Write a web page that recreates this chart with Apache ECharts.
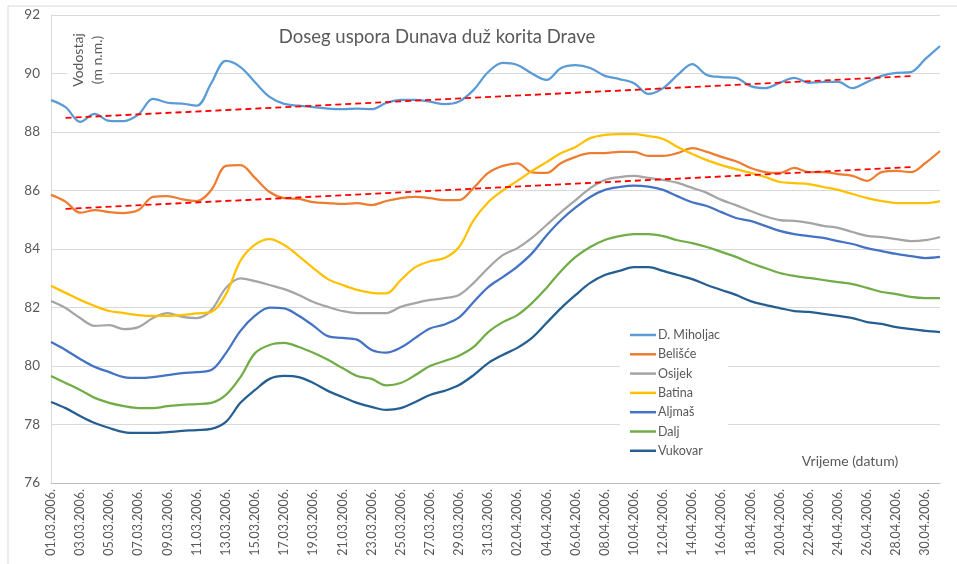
<!DOCTYPE html>
<html>
<head>
<meta charset="utf-8">
<script src="https://cdn.jsdelivr.net/npm/echarts@6/dist/echarts.min.js"></script>
<style>
  html, body { margin: 0; padding: 0; background: #fff; }
  #chart { width: 957px; height: 564px; }
</style>
</head>
<body>
<div id="chart"></div>
<script>
// datumi (dnevno, 01.03. - 01.05.2006.)
var dates = [
  '01.03.2006.','02.03.2006.','03.03.2006.','04.03.2006.','05.03.2006.','06.03.2006.','07.03.2006.','08.03.2006.',
  '09.03.2006.','10.03.2006.','11.03.2006.','12.03.2006.','13.03.2006.','14.03.2006.','15.03.2006.','16.03.2006.',
  '17.03.2006.','18.03.2006.','19.03.2006.','20.03.2006.','21.03.2006.','22.03.2006.','23.03.2006.','24.03.2006.',
  '25.03.2006.','26.03.2006.','27.03.2006.','28.03.2006.','29.03.2006.','30.03.2006.','31.03.2006.','01.04.2006.',
  '02.04.2006.','03.04.2006.','04.04.2006.','05.04.2006.','06.04.2006.','07.04.2006.','08.04.2006.','09.04.2006.',
  '10.04.2006.','11.04.2006.','12.04.2006.','13.04.2006.','14.04.2006.','15.04.2006.','16.04.2006.','17.04.2006.',
  '18.04.2006.','19.04.2006.','20.04.2006.','21.04.2006.','22.04.2006.','23.04.2006.','24.04.2006.','25.04.2006.',
  '26.04.2006.','27.04.2006.','28.04.2006.','29.04.2006.','30.04.2006.','01.05.2006.'
];

var miholjac = [89.09,88.85,88.35,88.62,88.38,88.37,88.6,89.13,89.0,88.97,88.9,89.67,90.43,90.22,89.7,89.2,
  88.96,88.9,88.85,88.8,88.78,88.8,88.78,88.99,89.1,89.1,89.04,88.95,89.04,89.44,90.05,90.36,
  90.29,90.0,89.78,90.19,90.29,90.19,89.92,89.81,89.67,89.3,89.5,89.95,90.32,89.95,89.88,89.85,
  89.57,89.5,89.68,89.85,89.68,89.71,89.71,89.5,89.71,89.92,90.02,90.05,90.5,90.94];

var belisce = [85.85,85.62,85.24,85.33,85.26,85.23,85.33,85.78,85.81,85.7,85.64,86.02,86.84,86.87,86.43,85.95,
  85.74,85.71,85.6,85.57,85.54,85.57,85.5,85.64,85.74,85.78,85.74,85.67,85.67,86.09,86.6,86.84,
  86.93,86.62,86.6,86.94,87.15,87.28,87.28,87.32,87.32,87.18,87.18,87.28,87.45,87.32,87.15,87.0,
  86.77,86.63,86.6,86.77,86.63,86.63,86.56,86.5,86.33,86.63,86.67,86.63,86.94,87.35];

var osijek = [82.22,81.98,81.64,81.37,81.4,81.26,81.33,81.64,81.81,81.68,81.64,81.91,82.67,83.0,82.9,82.77,
  82.63,82.43,82.19,82.02,81.88,81.81,81.81,81.81,82.02,82.15,82.26,82.32,82.43,82.84,83.35,83.79,
  84.03,84.38,84.82,85.26,85.67,86.08,86.36,86.46,86.5,86.43,86.36,86.26,86.09,85.92,85.68,85.5,
  85.3,85.12,84.99,84.96,84.89,84.79,84.72,84.58,84.45,84.41,84.34,84.27,84.3,84.41];

var batina = [82.74,82.5,82.26,82.05,81.88,81.81,81.74,81.71,81.71,81.74,81.8,81.85,82.45,83.6,84.15,84.34,
  84.14,83.76,83.35,82.97,82.77,82.6,82.5,82.48,82.94,83.38,83.58,83.69,84.07,84.99,85.6,86.0,
  86.33,86.67,86.97,87.28,87.49,87.79,87.9,87.93,87.93,87.86,87.76,87.49,87.25,87.04,86.87,86.73,
  86.6,86.46,86.29,86.25,86.22,86.12,86.02,85.88,85.74,85.64,85.57,85.57,85.57,85.64];

var aljmas = [80.82,80.55,80.24,79.97,79.79,79.62,79.59,79.62,79.69,79.76,79.79,79.86,80.44,81.2,81.72,82.0,
  81.97,81.72,81.38,81.02,80.96,80.9,80.55,80.46,80.63,80.96,81.28,81.42,81.66,82.19,82.7,83.04,
  83.4,83.85,84.46,84.99,85.42,85.78,86.02,86.12,86.17,86.13,86.02,85.8,85.6,85.47,85.26,85.06,
  84.96,84.79,84.62,84.51,84.44,84.38,84.27,84.17,84.03,83.93,83.83,83.76,83.69,83.73];

var dalj = [79.66,79.42,79.18,78.91,78.74,78.63,78.56,78.56,78.63,78.67,78.7,78.74,79.01,79.62,80.44,80.72,
  80.79,80.65,80.45,80.21,79.93,79.66,79.56,79.34,79.42,79.69,80.0,80.17,80.35,80.65,81.16,81.5,
  81.74,82.15,82.67,83.25,83.73,84.07,84.31,84.44,84.51,84.51,84.44,84.3,84.2,84.07,83.9,83.73,
  83.52,83.35,83.18,83.08,83.01,82.94,82.87,82.8,82.67,82.53,82.46,82.36,82.32,82.32];

var vukovar = [78.77,78.56,78.29,78.05,77.88,77.74,77.71,77.71,77.74,77.78,77.81,77.85,78.09,78.74,79.18,79.56,
  79.66,79.62,79.42,79.15,78.94,78.74,78.6,78.5,78.56,78.77,79.01,79.15,79.35,79.69,80.1,80.38,
  80.62,80.96,81.47,81.98,82.43,82.84,83.11,83.25,83.38,83.38,83.25,83.11,82.97,82.77,82.6,82.43,
  82.22,82.09,81.98,81.88,81.85,81.78,81.71,81.64,81.5,81.44,81.33,81.26,81.2,81.16];

// linearni trend (pocetak / kraj)
var trendMiholjac = [[dates[1], 88.48], [dates[59], 89.91]];
var trendBelisce = [[dates[1], 85.37], [dates[59], 86.8]];

var names = ['D. Miholjac', 'Belišće', 'Osijek', 'Batina', 'Aljmaš', 'Dalj', 'Vukovar'];
var boje = ['#5B9BD5', '#ED7D31', '#A5A5A5', '#FFC000', '#4472C4', '#70AD47', '#255E91'];
var podaci = [miholjac, belisce, osijek, batina, aljmas, dalj, vukovar];

var FONT = 'Lato, "Noto Sans", sans-serif';
var chart = echarts.init(document.getElementById('chart'));

var series = names.map(function (n, i) {
  return {
    name: n,
    type: 'line',
    data: podaci[i],
    smooth: 0.35,
    symbol: 'none',
    lineStyle: { color: boje[i], width: 2.25 },
    itemStyle: { color: boje[i] },
    z: 3
  };
});
[trendMiholjac, trendBelisce].forEach(function (t) {
  series.push({
    type: 'line',
    data: t,
    symbol: 'none',
    silent: true,
    lineStyle: { color: '#FF0000', width: 1.8, type: [6, 4] },
    z: 4
  });
});

var option = {
  animation: false,
  backgroundColor: '#fff',
  textStyle: { fontFamily: FONT },
  grid: { left: 51, right: 17, top: 15, bottom: 81, containLabel: false, outerBoundsMode: 'none' },
  xAxis: {
    type: 'category',
    data: dates,
    boundaryGap: false,
    axisLine: { show: true, lineStyle: { color: '#BFBFBF', width: 1 } },
    axisTick: { show: false },
    splitLine: { show: false },
    axisLabel: { interval: 1, rotate: 90, fontSize: 12.5, color: '#595959', margin: 6, fontFamily: FONT }
  },
  yAxis: {
    type: 'value',
    min: 76, max: 92, interval: 2,
    axisLine: { show: true, lineStyle: { color: '#D9D9D9' } },
    axisTick: { show: false },
    splitLine: { lineStyle: { color: '#D9D9D9', width: 1 } },
    axisLabel: { fontSize: 13.5, color: '#595959', margin: 11, fontFamily: FONT }
  },
  legend: {
    data: names,
    orient: 'vertical',
    left: 620, top: 320,
    padding: [8, 8, 8, 10],
    icon: 'rect',
    itemWidth: 26, itemHeight: 2.5, itemGap: 5.3,
    backgroundColor: '#fff',
    textStyle: { fontSize: 12.5, lineHeight: 14, color: '#595959', fontFamily: FONT, padding: [0, 0, 0, -3] },
    z: 5
  },
  graphic: [
    {
      type: 'rect', shape: { x: 8, y: 6, width: 990, height: 600 },
      style: { fill: 'none', stroke: '#D9D9D9', lineWidth: 1 }, silent: true, z: 0
    },
    {
      type: 'text', x: 437, y: 37, z: 10,
      style: { text: 'Doseg uspora Dunava duž korita Drave', fontSize: 18.5, fill: '#595959',
        fontFamily: FONT, align: 'center', verticalAlign: 'middle' }
    },
    {
      type: 'text', x: 88, y: 60, rotation: Math.PI / 2, z: 10,
      style: { text: 'Vodostaj\n(m n.m.)', fontSize: 14, lineHeight: 19, fill: '#595959',
        fontFamily: FONT, align: 'center', verticalAlign: 'middle',
        backgroundColor: '#fff', padding: [2, 4] }
    },
    {
      type: 'text', x: 850, y: 461, z: 10,
      style: { text: 'Vrijeme (datum)', fontSize: 14, fill: '#595959',
        fontFamily: FONT, align: 'center', verticalAlign: 'middle' }
    }
  ],
  series: series
};
chart.setOption(option);
</script>
</body>
</html>
